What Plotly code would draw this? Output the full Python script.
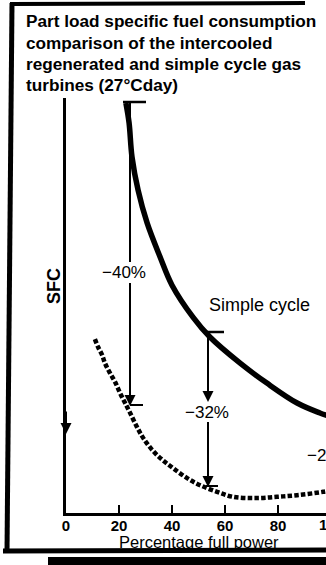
import plotly.graph_objects as go

# ---- data (SFC in arbitrary units, no y ticks) ----
simple_power = [22.6, 23.8, 24.9, 27.2, 30.6, 35.5, 40.0, 47.9, 54.3, 65.7, 75.8, 87.2, 95.8, 100.4]
simple_sfc = [98.8, 94.0, 85.8, 77.8, 69.9, 61.7, 54.9, 47.2, 42.4, 36.1, 31.3, 26.5, 24.1, 23.1]

icr_power = [10.9, 12.1, 13.6, 14.7, 16.6, 18.5, 20.4, 22.3, 24.2, 26.8, 29.1, 32.5, 36.2, 40.4,
             45.7, 50.6, 57.0, 63.0, 72.1, 79.6, 87.2, 97.0, 100.4]
icr_sfc = [41.9, 40.0, 38.1, 36.1, 33.7, 31.6, 28.9, 26.5, 24.1, 20.7, 18.1, 15.2, 12.9, 10.8,
           8.4, 6.7, 5.1, 3.9, 3.6, 3.9, 4.3, 5.1, 5.5]

tick_vals = [0, 20, 40, 60, 80]
tick_text = ["0", "20", "40", "60", "80"]

title_lines = ["Part load specific fuel consumption",
               "comparison of the intercooled",
               "regenerated and simple cycle gas",
               "turbines (27°Cday)"]

# ---- layout geometry (pixels) ----
W, H = 326, 565
L, R, T, B = 66, 0, 98, 52
XMAX = 98.1
YMAX = 100.0
PW, PH = W - L - R, H - T - B


def pp_x(px):  # pixel -> paper x
    return (px - L) / PW


def pp_y(py):  # pixel -> paper y
    return (H - B - py) / PH


FONT = "Liberation Sans, Arial, sans-serif"

fig = go.Figure()
fig.add_trace(go.Scatter(x=simple_power, y=simple_sfc, mode="lines",
                         line=dict(color="black", width=5.5, shape="spline"),
                         name="Simple cycle", showlegend=False))
fig.add_trace(go.Scatter(x=icr_power, y=icr_sfc, mode="lines",
                         line=dict(color="black", width=4.5, shape="spline", dash="4.5px,2.2px"),
                         name="Intercooled regenerated", showlegend=False))

shapes = []


def pline(x0, y0, x1, y1, w):
    shapes.append(dict(type="line", xref="paper", yref="paper",
                       x0=pp_x(x0), y0=pp_y(y0), x1=pp_x(x1), y1=pp_y(y1),
                       line=dict(color="black", width=w)))


# frame
pline(12, 3, 7, 552, 5)
pline(10, 4, 305, 3, 4)
pline(3, 551, 326, 550, 5)
shapes.append(dict(type="rect", xref="paper", yref="paper",
                   x0=pp_x(48), y0=pp_y(557), x1=pp_x(330), y1=pp_y(567),
                   fillcolor="black", line=dict(width=0)))

# -40% measurement
pline(130, 103, 130, 262, 2)
pline(130, 283, 130, 400, 2)
pline(123, 102, 146, 102, 2.5)
pline(130, 405, 143, 405, 2)
# -32% measurement
pline(208, 332, 208, 400, 2)
pline(208, 422, 208, 483, 2)
pline(207, 332, 224, 332, 2.5)
pline(206, 486, 218, 486, 2)

annotations = []


def arrow_down(px, py, length=14):
    annotations.append(dict(xref="paper", yref="paper", x=pp_x(px), y=pp_y(py),
                            ax=0, ay=-length, text="", showarrow=True,
                            arrowhead=2, arrowsize=1.1, arrowwidth=2, arrowcolor="black"))


arrow_down(130, 406)
arrow_down(208, 487)
arrow_down(208, 402, 10)
arrow_down(66, 434, 24)


def label(text, cx, cy, size, bold=False, anchor="center", angle=0):
    t = f"<b>{text}</b>" if bold else text
    annotations.append(dict(xref="paper", yref="paper", x=pp_x(cx), y=pp_y(cy),
                            text=t, showarrow=False, xanchor=anchor, yanchor="middle",
                            textangle=angle,
                            font=dict(family=FONT, size=size, color="black")))


label("−40%", 124, 272, 17)
label("−32%", 207, 412, 17)
label("−25%", 305, 455, 17, anchor="left")
label("Simple cycle", 259, 305, 18)
label("SFC", 54, 286, 18, bold=True, angle=-90)
label("Percentage full power", 199, 542, 16.5)
label("100", 331, 524, 15, bold=True)

# title, one annotation per line
for i, line_text in enumerate(title_lines):
    label(line_text, 24, 21.5 + 21.2 * i, 17.2, bold=True, anchor="left")

fig.update_layout(
    width=W, height=H, autosize=False,
    margin=dict(l=L, r=R, t=T, b=B, pad=0),
    paper_bgcolor="white", plot_bgcolor="white",
    shapes=shapes, annotations=annotations,
    xaxis=dict(range=[0, XMAX], showline=True, linewidth=3, linecolor="black",
               ticks="inside", ticklen=8, tickwidth=2, tickcolor="black",
               tickvals=tick_vals, ticktext=[f"<b>{t}</b>" for t in tick_text],
               showgrid=False, zeroline=False, ticklabelstandoff=-3,
               tickfont=dict(family=FONT, size=15, color="black"), fixedrange=True),
    yaxis=dict(range=[0, YMAX], showline=True, linewidth=3, linecolor="black",
               ticks="", showticklabels=False, showgrid=False, zeroline=False,
               fixedrange=True),
)

fig.write_html("out.html", config={"displayModeBar": False},
               post_script="document.body.style.margin='0';document.body.style.overflow='hidden';")
